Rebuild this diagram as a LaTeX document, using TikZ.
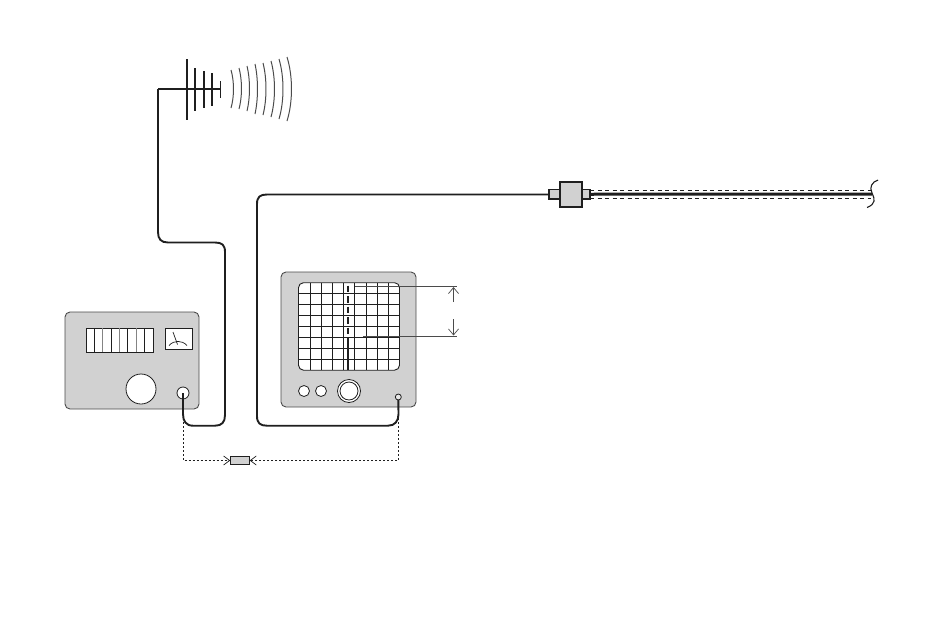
\documentclass[tikz,border=0pt]{standalone}
\usetikzlibrary{arrows.meta}
\definecolor{panel}{gray}{0.82}
\definecolor{ink}{gray}{0.12}
\tikzset{
  panelbox/.style={draw=ink!80!white,fill=panel,line width=0.9pt,rounded corners=5pt,inner sep=0pt,outer sep=0pt,anchor=north west},
  whitebox/.style={draw=ink,fill=white,line width=0.9pt,inner sep=0pt,outer sep=0pt,anchor=north west},
  greybox/.style={draw=ink,fill=panel,line width=1.3pt,inner sep=0pt,outer sep=0pt,anchor=north west},
  dial/.style={circle,draw=ink,fill=white,line width=0.8pt,inner sep=0pt,outer sep=0pt},
  feeder/.style={draw=ink,line width=1.9pt},
  probe/.style={draw=ink,line width=0.7pt,dash pattern=on 2.2pt off 1.8pt},
  probetip/.style={-{Straight Barb[length=6pt,width=9pt,line width=0.7pt]}},
  wave/.style={draw=ink!80!white,line width=1pt},
  grid line/.style={draw=ink,line width=0.9pt},
  level/.style={draw=ink!80!white,line width=0.7pt},
  levelarrow/.style={draw=ink!80!white,line width=0.7pt,-{Straight Barb[length=6pt,width=10pt,line width=0.7pt]}}
}
\begin{document}
\begin{tikzpicture}[x=1pt,y=-1pt]
\useasboundingbox (0,0) rectangle (941,637);
% Antenna
\coordinate (boomend) at (220,89);
\coordinate (boomcorner) at (158,89);
\draw[line width=1.6pt,ink] (boomcorner) -- (boomend);
\draw[line width=1.6pt,ink] (187,59) -- (187,120);
\draw[line width=1.4pt,ink] (195,68) -- (195,111);
\draw[line width=1.4pt,ink] (204,71) -- (204,108);
\draw[line width=1.4pt,ink] (212,73) -- (212,106);
\draw[line width=0.8pt,ink] (220,81) -- (220,98);
\foreach \xa/\xm/\ya/\yb in {231/233.5/70/108,239/241.5/68/109,247/249.5/66/111,255/257.5/64/114,263/266/63/115,271/274.5/61/117,279/283/59/119,287/291.5/57/121}{
  \draw[wave] (\xa,\ya) .. controls ({\xm+0.33*(\xm-\xa)},{\ya+0.3*(\yb-\ya)}) and ({\xm+0.33*(\xm-\xa)},{\ya+0.7*(\yb-\ya)}) .. (\xa,\yb);
}
% Generator
\node[panelbox,minimum width=134pt,minimum height=97pt] (gen) at (65,312) {};
\node[whitebox,minimum width=67pt,minimum height=24pt] (display) at (86,328) {};
\foreach \i in {1,...,7}{
  \ifodd\i \def\c{ink}\else \def\c{ink!55!white}\fi
  \draw[draw=\c,line width=0.8pt] ({86+\i*67/8},328) -- ++(0,24);
}
\node[whitebox,minimum width=27pt,minimum height=21pt] (meter) at (165,328) {};
\draw[ink,line width=0.7pt] (173,332) -- (177.5,344.5);
\draw[ink,line width=0.7pt] (169,345.5) .. controls (174,340) and (182,340) .. (187,345.5);
\node[dial,minimum size=30pt] (knob) at (141,389) {};
\node[dial,minimum size=12pt] (genjack) at (183,393) {};
% Oscilloscope
\node[panelbox,minimum width=135pt,minimum height=135pt] (scope) at (281,272) {};
\node[whitebox,rounded corners=5pt,minimum width=101pt,minimum height=87.5pt] (screen) at (298.5,282.7) {};
\foreach \x in {310.5,321.5,332.5,343.5,354.5,366.5,377.5,388.5}{
  \draw[grid line] (\x,282.7) -- (\x,370.2);
}
\foreach \y in {293.7,304.5,315.5,326.5,337.5,348.5,359.5}{
  \draw[grid line] (298.5,\y) -- (399.5,\y);
}
\draw[ink,line width=1.8pt,dash pattern=on 6.5pt off 4pt] (348.3,285.5) -- (348.3,337);
\draw[ink,line width=1.8pt] (348.3,337) -- (348.3,370);
\node[dial,minimum size=11pt] (btna) at (304,391) {};
\node[dial,minimum size=11pt] (btnb) at (321,391) {};
\node[dial,minimum size=23pt] (bigknob) at (349,391) {};
\node[dial,minimum size=18pt] (bigknobin) at (349,391) {};
\node[dial,minimum size=6pt,fill=panel!50!white] (scopejack) at (398.3,397) {};
% Levels
\coordinate (leva) at (355,286);
\coordinate (levaend) at (457,286);
\coordinate (levb) at (363,336);
\coordinate (levbend) at (457,336);
\draw[level] (leva) -- (levaend);
\draw[level] (levb) -- (levbend);
\coordinate (arra) at (453.5,302);
\coordinate (arraend) at (453.5,287);
\coordinate (arrb) at (453.5,319);
\coordinate (arrbend) at (453.5,335.5);
\draw[levelarrow] (arra) -- (arraend);
\draw[levelarrow] (arrb) -- (arrbend);
% Line connector
\node[greybox,minimum width=11pt,minimum height=9.5pt] (plugl) at (549,189.5) {};
\node[greybox,minimum width=9pt,minimum height=9.5pt] (plugr) at (581,189.5) {};
\node[greybox,minimum width=22pt,minimum height=25pt] (coupler) at (560,182) {};
\coordinate (lineend) at (872,194);
\draw[ink,line width=3pt] (plugr.east) -- (lineend);
\draw[ink,line width=0.7pt,dash pattern=on 4pt off 3.5pt] (590,190.5) -- (872,190.5);
\draw[ink,line width=0.7pt,dash pattern=on 4pt off 3.5pt] (590,198) -- (871,198);
\draw[ink,line width=1.1pt] (878,180) .. controls (872,182) and (869,187) .. (872,193) .. controls (875,199) and (876,204) .. (867,207.5);
% Cables
\coordinate (genturn) at (183,414);
\coordinate (scopeturn) at (398.5,414);
\draw[feeder] (genjack.center) -- (genturn) .. controls (183,421) and (186,425.7) .. (193,425.7) -- (215,425.7) .. controls (222,425.7) and (225,422) .. (225,415) -- (225,252) .. controls (225,245) and (222,242.5) .. (215,242.5) -- (168,242.5) .. controls (161,242.5) and (158,239) .. (158,232) -- (boomcorner);
\draw[feeder] (scopejack.south) -- (scopeturn) .. controls (398.5,421) and (395,425.7) .. (388,425.7) -- (267,425.7) .. controls (260,425.7) and (257,423) .. (257,416) -- (257,204) .. controls (257,197) and (260,194.5) .. (267,194.5) -- (549,194.5);
% Resistor and probes
\node[greybox,line width=1pt,minimum width=19.5pt,minimum height=8pt] (res) at (230.2,456.5) {};
\draw[probe,probetip] (genturn) |- (res.west);
\draw[probe,probetip] (scopeturn) |- (res.east);
\end{tikzpicture}
\end{document}
